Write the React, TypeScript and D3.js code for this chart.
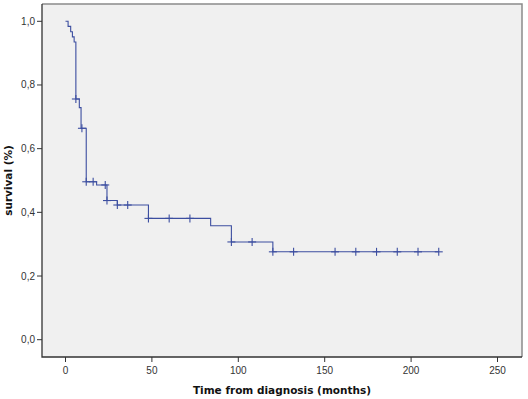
import React, { useEffect, useRef } from 'react'
import * as d3 from 'd3'

// Kaplan-Meier steps (months, survival proportion)
const eventTimes = [0, 1.5, 3, 4, 5, 6, 8, 9, 12, 18, 24, 30, 48, 84, 96, 120]
const survival = [1.0, 0.984, 0.967, 0.951, 0.935, 0.756, 0.729, 0.664, 0.496, 0.486, 0.437, 0.423, 0.381, 0.358, 0.307, 0.276]
const lastFollowUp = 216
const censorTimes = [6, 9.5, 12, 16, 23, 24, 30, 36, 48, 60, 72, 96, 108, 120, 132, 156, 168, 180, 192, 204, 216]
const xTicks = [0, 50, 100, 150, 200, 250]
const yTicks = [0, 0.2, 0.4, 0.6, 0.8, 1.0]

const W = 528
const H = 399

const App = () => {
    const svgRef = useRef(null)

    useEffect(() => {
        const svg = d3.select(svgRef.current)
        svg.selectAll('*').remove()

        const frame = { left: 42, right: 522, top: 4, bottom: 357 }
        const x = d3.scaleLinear().domain([0, 250]).range([65.5, 497.5])
        const y = d3.scaleLinear().domain([0, 1]).range([339.7, 21.3])
        const blue = '#3c4ea0'

        svg.append('rect')
            .attr('width', W).attr('height', H).attr('fill', '#fff')

        // plot background
        svg.append('rect')
            .attr('x', frame.left).attr('y', frame.top)
            .attr('width', frame.right - frame.left).attr('height', frame.bottom - frame.top)
            .attr('fill', '#f0f0f0')

        // top + right border (gray)
        svg.append('path')
            .attr('d', `M${frame.left},${frame.top}H${frame.right}V${frame.bottom}`)
            .attr('fill', 'none').attr('stroke', '#8a8a8a').attr('stroke-width', 1.5)

        // left + bottom axes
        svg.append('path')
            .attr('d', `M${frame.left},${frame.top}V${frame.bottom}H${frame.right}`)
            .attr('fill', 'none').attr('stroke', '#333').attr('stroke-width', 1.3)

        const fmt = d3.format('.1f')

        const yg = svg.append('g')
        yg.selectAll('line').data(yTicks).join('line')
            .attr('x1', frame.left - 5).attr('x2', frame.left)
            .attr('y1', d => y(d)).attr('y2', d => y(d))
            .attr('stroke', '#333').attr('stroke-width', 1)
        yg.selectAll('text').data(yTicks).join('text')
            .attr('x', frame.left - 7).attr('y', d => y(d))
            .attr('dy', '0.35em').attr('text-anchor', 'end')
            .attr('font-family', 'Liberation Sans, Arial, sans-serif').attr('font-size', 10)
            .attr('fill', '#333')
            .text(d => fmt(d).replace('.', ','))

        const xg = svg.append('g')
        xg.selectAll('line').data(xTicks).join('line')
            .attr('x1', d => x(d)).attr('x2', d => x(d))
            .attr('y1', frame.bottom).attr('y2', frame.bottom + 5)
            .attr('stroke', '#333').attr('stroke-width', 1)
        xg.selectAll('text').data(xTicks).join('text')
            .attr('x', d => x(d)).attr('y', frame.bottom + 17)
            .attr('text-anchor', 'middle')
            .attr('font-family', 'Liberation Sans, Arial, sans-serif').attr('font-size', 10)
            .attr('fill', '#333')
            .text(d => d)

        // axis titles
        svg.append('text')
            .attr('x', (frame.left + frame.right) / 2).attr('y', 394)
            .attr('text-anchor', 'middle')
            .attr('font-family', 'DejaVu Sans, sans-serif').attr('font-weight', 'bold')
            .attr('font-size', 10.5).attr('fill', '#111')
            .text('Time from diagnosis (months)')
        svg.append('text')
            .attr('transform', `translate(12,${(frame.top + frame.bottom) / 2}) rotate(-90)`)
            .attr('text-anchor', 'middle')
            .attr('font-family', 'DejaVu Sans, sans-serif').attr('font-weight', 'bold')
            .attr('font-size', 10.5).attr('fill', '#111')
            .text('survival (%)')

        // survival curve
        const pts = eventTimes.map((t, i) => [t, survival[i]])
        pts.push([lastFollowUp, survival[survival.length - 1]])
        const line = d3.line().x(d => x(d[0])).y(d => y(d[1])).curve(d3.curveStepAfter)
        svg.append('path')
            .attr('d', line(pts))
            .attr('fill', 'none').attr('stroke', blue).attr('stroke-width', 1.1)

        // censor marks
        const survAt = t => survival[Math.max(0, d3.bisectRight(eventTimes, t) - 1)]
        const cg = svg.append('g').attr('stroke', blue).attr('stroke-width', 1.1)
        censorTimes.forEach(t => {
            const cx = x(t), cy = y(survAt(t))
            cg.append('line').attr('x1', cx).attr('x2', cx).attr('y1', cy - 4).attr('y2', cy + 4)
            cg.append('line').attr('x1', cx - 4).attr('x2', cx + 4).attr('y1', cy).attr('y2', cy)
        })
    }, [])

    return (
        <svg ref={svgRef} width={W} height={H} style={{ position: 'absolute', left: 0, top: 0 }} />
    )
}

export default App
